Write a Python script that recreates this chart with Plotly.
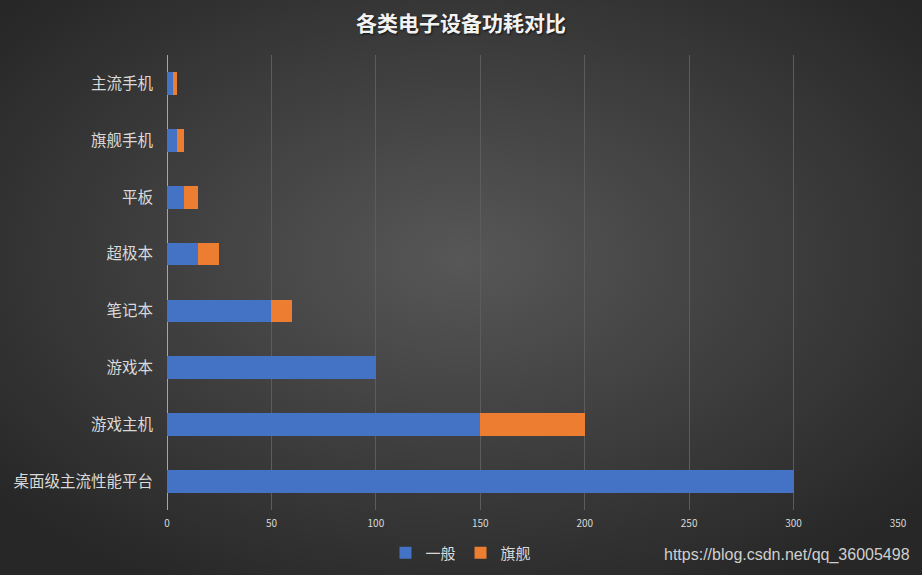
"""Horizontal stacked bar chart: power draw of common electronic devices."""

import base64

import plotly.graph_objects as go

# Data
categories = [
    "主流手机",
    "旗舰手机",
    "平板",
    "超极本",
    "笔记本",
    "游戏本",
    "游戏主机",
    "桌面级主流性能平台",
]
normal_values = [3, 5, 8, 15, 50, 100, 150, 300]
flagship_values = [2, 3, 7, 10, 10, 0, 50, 0]
x_ticks = [0, 50, 100, 150, 200, 250, 300, 350]

W, H = 922, 575
MARGIN = dict(l=167, r=24, t=55, b=65)
CJK = "Noto Sans CJK SC"

# Excel-style dark radial background, drawn as an inline SVG image
_svg = (
    f'<svg xmlns="http://www.w3.org/2000/svg" width="{W}" height="{H}">'
    '<defs><radialGradient id="g" cx="50%" cy="45%" r="65%">'
    '<stop offset="0%" stop-color="#575757"/>'
    '<stop offset="100%" stop-color="#272727"/>'
    "</radialGradient></defs>"
    f'<rect width="{W}" height="{H}" fill="url(#g)"/></svg>'
)
bg_src = "data:image/svg+xml;base64," + base64.b64encode(_svg.encode()).decode()

plot_w = W - MARGIN["l"] - MARGIN["r"]
plot_h = H - MARGIN["t"] - MARGIN["b"]

fig = go.Figure()
fig.add_trace(
    go.Bar(
        y=categories,
        x=normal_values,
        name="一般",
        orientation="h",
        marker=dict(color="#4472C4", line=dict(width=0)),
    )
)
fig.add_trace(
    go.Bar(
        y=categories,
        x=flagship_values,
        name="旗舰",
        orientation="h",
        marker=dict(color="#ED7D31", line=dict(width=0)),
    )
)

fig.update_layout(
    width=W,
    height=H,
    barmode="stack",
    bargap=0.6,
    margin=MARGIN,
    paper_bgcolor="#3a3a3a",
    plot_bgcolor="rgba(0,0,0,0)",
    font=dict(family=CJK, color="#d9d9d9"),
    title=dict(
        text="<b>各类电子设备功耗对比</b>",
        x=0.5,
        xref="container",
        xanchor="center",
        y=1 - 24 / H,
        yanchor="middle",
        font=dict(size=21, color="#f2f2f2", family=CJK, shadow="1px 1px 2px #111"),
    ),
    legend=dict(
        orientation="h",
        traceorder="normal",
        xref="container",
        yref="container",
        x=0.5,
        xanchor="center",
        y=1 - 553 / H,
        yanchor="middle",
        font=dict(size=15, color="#d9d9d9"),
        itemwidth=30,
        bgcolor="rgba(0,0,0,0)",
    ),
    images=[
        dict(
            source=bg_src,
            xref="paper",
            yref="paper",
            x=-MARGIN["l"] / plot_w,
            y=1 + MARGIN["t"] / plot_h,
            sizex=W / plot_w,
            sizey=H / plot_h,
            xanchor="left",
            yanchor="top",
            sizing="stretch",
            layer="below",
        )
    ],
    annotations=[
        dict(
            text="https://blog.csdn.net/qq_36005498",
            xref="paper",
            yref="paper",
            x=(912 - MARGIN["l"]) / plot_w,
            y=-(555 - (H - MARGIN["b"])) / plot_h,
            xanchor="right",
            yanchor="middle",
            showarrow=False,
            font=dict(size=16, color="#cfcfcf", family="Liberation Sans"),
        )
    ],
)

fig.update_xaxes(
    range=[0, 350],
    tickvals=x_ticks,
    showgrid=True,
    gridcolor="#5c5c5c",
    gridwidth=1,
    zeroline=True,
    zerolinecolor="#a6a6a6",
    zerolinewidth=1,
    ticklabelstandoff=6,
    tickfont=dict(size=10, color="#d9d9d9"),
    automargin=False,
    fixedrange=True,
)
fig.update_yaxes(
    autorange="reversed",
    showgrid=False,
    ticklabelstandoff=13,
    tickfont=dict(size=15.5, color="#d9d9d9"),
    automargin=False,
    fixedrange=True,
)

# drop the default body margin so the figure sits flush in the window
fig.write_html(
    "out.html",
    config={"displayModeBar": False},
    post_script="document.body.style.margin='0';document.body.style.overflow='hidden';",
)
